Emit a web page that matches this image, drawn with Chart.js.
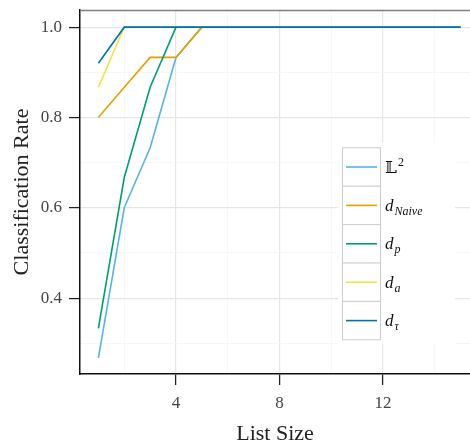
<!DOCTYPE html>
<html>
<head>
<meta charset="utf-8">
<script src="https://cdn.jsdelivr.net/npm/chart.js@4.4.0/dist/chart.umd.min.js"></script>
<style>
  html, body { margin: 0; padding: 0; background: #fff; overflow: hidden; }
  #wrap { width: 470px; height: 445px; }
</style>
</head>
<body>
<div id="wrap"><canvas id="chart" width="470" height="445"></canvas></div>
<script>
// podaci ocitani sa slike
const listSize = [1, 2, 3, 4, 5, 6, 7, 8, 9, 10, 11, 12, 13, 14, 15];
const rateL2    = [0.267, 0.600, 0.733, 0.933, 1, 1, 1, 1, 1, 1, 1, 1, 1, 1, 1];
const rateNaive = [0.800, 0.867, 0.933, 0.933, 1, 1, 1, 1, 1, 1, 1, 1, 1, 1, 1];
const rateP     = [0.333, 0.667, 0.867, 1, 1, 1, 1, 1, 1, 1, 1, 1, 1, 1, 1];
const rateA     = [0.867, 1, 1, 1, 1, 1, 1, 1, 1, 1, 1, 1, 1, 1, 1];
const rateTau   = [0.920, 1, 1, 1, 1, 1, 1, 1, 1, 1, 1, 1, 1, 1, 1];

const xTicks = [2, 4, 6, 8, 10, 12, 14];
const xMajor = [4, 8, 12];
const yTicks = [0.3, 0.4, 0.5, 0.6, 0.7, 0.8, 0.9, 1.0];
const yMajor = [0.4, 0.6, 0.8, 1.0];

// legenda: osnovni simbol, gornji indeks, donji indeks
const legendMain = ['\u{1D543}', 'd', 'd', 'd', 'd'];
const legendSup  = ['2', '', '', '', ''];
const legendSub  = ['', 'Naive', 'p', 'a', '\u03C4'];

const colors = ['#56B4E9', '#E69F00', '#009E73', '#F0E442', '#0072B2'];
const series = [rateL2, rateNaive, rateP, rateA, rateTau];

const serif = "'Liberation Serif', 'DejaVu Serif', serif";

const isMajor = (list, v) => list.some(m => Math.abs(m - v) < 1e-6);

const panelPlugin = {
    id: 'panel',
    beforeDatasetsDraw(chart) {
        const ctx = chart.ctx;
        const a = chart.chartArea;
        ctx.save();
        ctx.strokeStyle = '#808080';
        ctx.lineWidth = 1.3;
        ctx.beginPath();
        ctx.moveTo(a.left, a.top + 0.5);
        ctx.lineTo(a.right, a.top + 0.5);
        ctx.stroke();
        // bijela pozadina legende
        ctx.fillStyle = '#fff';
        ctx.fillRect(338, 143, 117, 201);
        ctx.restore();
    },
    afterDatasetsDraw(chart) {
        const ctx = chart.ctx;
        const x0 = 342, w = 38, h = 38.4, top = 147.3;
        ctx.save();
        legendMain.forEach((m, i) => {
            const y = top + i * h;
            ctx.fillStyle = '#fff';
            ctx.fillRect(x0, y, w, h);
            ctx.strokeStyle = '#cccccc';
            ctx.lineWidth = 1;
            ctx.strokeRect(x0 + 0.5, y + 0.5, w, h);
            ctx.strokeStyle = colors[i];
            ctx.lineWidth = 1.6;
            ctx.beginPath();
            ctx.moveTo(x0 + 4, y + h / 2 + 0.5);
            ctx.lineTo(x0 + w - 3, y + h / 2 + 0.5);
            ctx.stroke();

            let tx = x0 + w + 5;
            const ty = y + h / 2 + 6;
            ctx.fillStyle = '#111';
            ctx.textBaseline = 'alphabetic';
            ctx.textAlign = 'left';
            ctx.font = (i === 0 ? '' : 'italic ') + '17px ' + serif;
            ctx.fillText(m, tx, ty);
            tx += ctx.measureText(m).width + 1;
            if (legendSup[i]) {
                ctx.font = '12px ' + serif;
                ctx.fillText(legendSup[i], tx, ty - 7);
            }
            if (legendSub[i]) {
                ctx.font = 'italic 12px ' + serif;
                ctx.fillText(legendSub[i], tx, ty + 4);
            }
        });
        ctx.restore();
    }
};

new Chart(document.getElementById('chart'), {
    type: 'line',
    data: {
        datasets: series.map((arr, i) => ({
            data: listSize.map((x, j) => ({ x: x, y: arr[j] })),
            borderColor: colors[i],
            borderWidth: 1.6,
            pointRadius: 0,
            tension: 0,
            fill: false,
            order: series.length - i
        }))
    },
    options: {
        responsive: false,
        animation: false,
        layout: { padding: { top: 10, left: 0, right: 0, bottom: 0 } },
        plugins: { legend: { display: false }, tooltip: { enabled: false } },
        scales: {
            x: {
                type: 'linear',
                min: 0.29,
                max: 15.36,
                afterBuildTicks: s => { s.ticks = xTicks.map(v => ({ value: v })); },
                afterFit: s => {
                    s.height = 71;
                    s.paddingLeft = 0; s.paddingRight = 0;
                },
                grid: {
                    color: c => isMajor(xMajor, c.tick.value) ? '#e6e6e6' : '#f5f5f5',
                    lineWidth: c => isMajor(xMajor, c.tick.value) ? 1.2 : 0.8,
                    tickColor: c => isMajor(xMajor, c.tick.value) ? '#222' : 'rgba(0,0,0,0)',
                    tickLength: 11,
                    tickWidth: 1.3
                },
                border: { color: '#111', width: 1.5 },
                ticks: {
                    autoSkip: false,
                    maxRotation: 0,
                    padding: 8,
                    color: '#444',
                    font: { family: serif, size: 17 },
                    callback: v => isMajor(xMajor, v) ? String(v) : ''
                },
                title: {
                    display: true,
                    text: 'List Size',
                    color: '#222',
                    font: { family: serif, size: 22, lineHeight: 1 },
                    padding: 0
                }
            },
            y: {
                min: 0.232,
                max: 1.038,
                afterBuildTicks: s => { s.ticks = yTicks.map(v => ({ value: v })); },
                afterFit: s => {
                    s.width = 80;
                    s.paddingTop = 0; s.paddingBottom = 0;
                },
                grid: {
                    color: c => isMajor(yMajor, c.tick.value) ? '#e6e6e6' : '#f5f5f5',
                    lineWidth: c => isMajor(yMajor, c.tick.value) ? 1.2 : 0.8,
                    tickColor: c => isMajor(yMajor, c.tick.value) ? '#222' : 'rgba(0,0,0,0)',
                    tickLength: 11,
                    tickWidth: 1.3
                },
                border: { color: '#111', width: 1.5 },
                ticks: {
                    autoSkip: false,
                    padding: 7,
                    color: '#444',
                    font: { family: serif, size: 17 },
                    callback: v => isMajor(yMajor, v) ? v.toFixed(1) : ''
                },
                title: {
                    display: true,
                    text: 'Classification Rate',
                    color: '#222',
                    font: { family: serif, size: 22, lineHeight: 1.2 },
                    padding: { top: 9, bottom: 0 }
                }
            }
        }
    },
    plugins: [panelPlugin]
});
</script>
</body>
</html>
